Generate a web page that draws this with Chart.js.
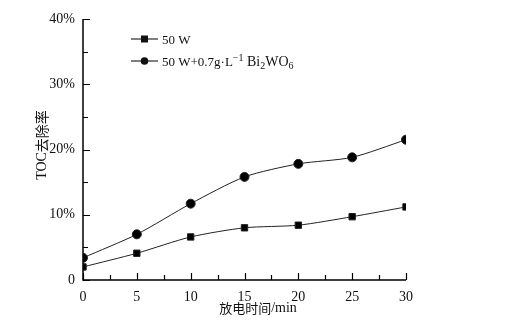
<!DOCTYPE html>
<html lang="zh">
  <head>
    <meta charset="UTF-8" />
    <title>TOC去除率</title>
    <script src="https://cdn.jsdelivr.net/npm/chart.js"></script>
    <style>
      html, body { margin: 0; padding: 0; background: #fff; }
      #wrap { width: 513px; height: 323px; }
    </style>
  </head>
  <body>
    <div id="wrap"><canvas id="tocChart" width="513" height="323"></canvas></div>

    <script>
      // 放电时间 (min)
      const times = [0, 5, 10, 15, 20, 25, 30];
      // TOC 去除率 (%)
      const toc50W = [2.0, 4.1, 6.6, 8.0, 8.4, 9.7, 11.2];
      const tocBi2WO6 = [3.4, 7.0, 11.7, 15.8, 17.8, 18.8, 21.5];
      const xTicks = [0, 5, 10, 15, 20, 25, 30];
      const yTicks = [0, 10, 20, 30, 40];

      const serif = "'Liberation Serif', 'DejaVu Serif', serif";
      const cjk = "'Noto Sans CJK SC', sans-serif";

      // 依次画出不同字体的文字片段, 返回总宽度
      function runs(ctx, parts, x, y, measureOnly) {
        let tx = x;
        parts.forEach(([s, font, dy]) => {
          ctx.font = font;
          if (!measureOnly) ctx.fillText(s, tx, y + (dy || 0));
          tx += ctx.measureText(s).width;
        });
        return tx - x;
      }

      // 坐标轴、内向刻度、标题和图例
      const decor = {
        id: "decor",
        afterDraw(chart) {
          const { ctx, chartArea: a, scales } = chart;
          const x = scales.x, y = scales.y;
          ctx.save();
          ctx.strokeStyle = "#000";
          ctx.lineWidth = 1.5;
          ctx.beginPath();
          ctx.moveTo(a.left, a.top);
          ctx.lineTo(a.left, a.bottom);
          ctx.lineTo(a.right, a.bottom);
          ctx.stroke();

          ctx.lineWidth = 1.2;
          ctx.beginPath();
          for (let v = 0; v <= 40; v += 5) {
            const py = Math.round(y.getPixelForValue(v)) + 0.5;
            ctx.moveTo(a.left, py);
            ctx.lineTo(a.left + (v % 10 === 0 ? 7 : 5), py);
          }
          for (let v = 0; v <= 30; v += 2.5) {
            const px = Math.round(x.getPixelForValue(v)) + 0.5;
            ctx.moveTo(px, a.bottom);
            ctx.lineTo(px, a.bottom - (v % 5 === 0 ? 7 : 5));
          }
          ctx.stroke();

          // 坐标轴标题
          ctx.fillStyle = "#111";
          ctx.textAlign = "left";
          ctx.textBaseline = "middle";
          const xTitle = [["放电时间", "13px " + cjk], ["/min", "14px " + serif]];
          const wx = runs(ctx, xTitle, 0, 0, true);
          runs(ctx, xTitle, 258 - wx / 2, 308);

          const yTitle = [["TOC", "14px " + serif], ["去除率", "14px " + cjk]];
          const wy = runs(ctx, yTitle, 0, 0, true);
          ctx.save();
          ctx.translate(42, 145);
          ctx.rotate(-Math.PI / 2);
          runs(ctx, yTitle, -wy / 2, 0);
          ctx.restore();

          // 图例
          const rows = [
            { y: 39, shape: "rect" },
            { y: 61, shape: "circle" },
          ];
          rows.forEach((r) => {
            ctx.lineWidth = 1;
            ctx.beginPath();
            ctx.moveTo(131, r.y);
            ctx.lineTo(158, r.y);
            ctx.stroke();
            ctx.beginPath();
            if (r.shape === "rect") ctx.rect(141, r.y - 3.5, 7, 7);
            else ctx.arc(144.5, r.y, 3.8, 0, Math.PI * 2);
            ctx.fill();
          });
          ctx.textBaseline = "alphabetic";
          const big = "13px " + serif, mid = "14px " + serif, small = "10px " + serif;
          runs(ctx, [["50 W", big]], 162, 44);
          runs(ctx, [
            ["50 W+0.7g·L", big],
            ["−1", small, -5],
            [" Bi", mid],
            ["2", small, 3],
            ["WO", mid],
            ["6", small, 3],
          ], 162, 66);
          ctx.restore();
        },
      };

      new Chart(document.getElementById("tocChart"), {
        type: "line",
        data: {
          labels: times,
          datasets: [
            {
              label: "50 W",
              data: times.map((t, i) => ({ x: t, y: toc50W[i] })),
              borderColor: "#222",
              backgroundColor: "#000",
              borderWidth: 1,
              pointStyle: "rect",
              pointRadius: 4.5,
              tension: 0.25,
            },
            {
              label: "50 W+0.7g·L⁻¹ Bi₂WO₆",
              data: times.map((t, i) => ({ x: t, y: tocBi2WO6[i] })),
              borderColor: "#222",
              backgroundColor: "#000",
              borderWidth: 1,
              pointStyle: "circle",
              pointRadius: 4.5,
              tension: 0.25,
            },
          ],
        },
        options: {
          responsive: false,
          animation: false,
          layout: { padding: { left: 0, right: 107, top: 19, bottom: 0 } },
          plugins: { legend: { display: false }, tooltip: { enabled: false } },
          scales: {
            x: {
              type: "linear",
              min: 0,
              max: 30,
              afterBuildTicks: (s) => { s.ticks = xTicks.map((v) => ({ value: v })); },
              afterFit: (s) => { s.height = 43; },
              grid: { display: false, tickLength: 0 },
              border: { display: false },
              ticks: {
                color: "#111",
                padding: 9,
                font: { family: serif, size: 14 },
              },
            },
            y: {
              min: 0,
              max: 40,
              afterBuildTicks: (s) => { s.ticks = yTicks.map((v) => ({ value: v })); },
              afterFit: (s) => { s.width = 83; },
              grid: { display: false, tickLength: 0 },
              border: { display: false },
              ticks: {
                color: "#111",
                padding: 8,
                font: { family: serif, size: 14 },
                callback: (v) => (v === 0 ? "0" : v + "%"),
              },
            },
          },
        },
        plugins: [decor],
      });
    </script>
  </body>
</html>
